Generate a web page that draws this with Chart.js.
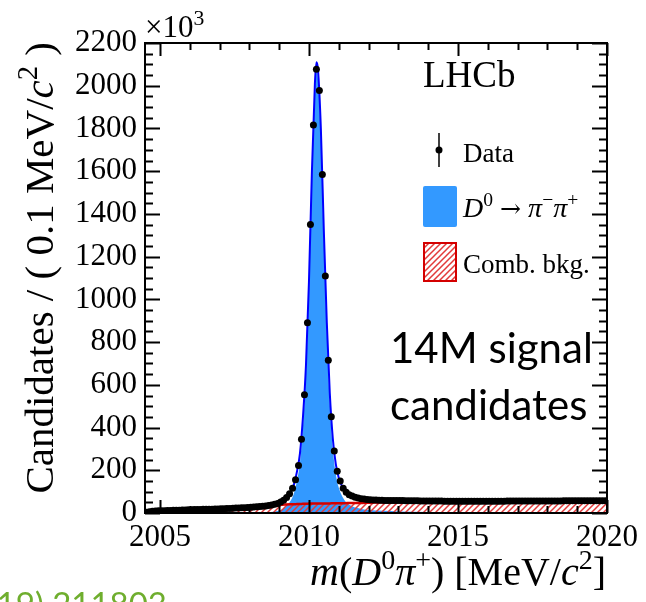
<!DOCTYPE html>
<html>
<head>
<meta charset="utf-8">
<script src="https://cdn.jsdelivr.net/npm/chart.js@4.4.1/dist/chart.umd.min.js"></script>
<style>
  html, body { margin: 0; padding: 0; background: #fff; }
  #wrap { position: relative; width: 646px; height: 602px; }
</style>
</head>
<body>
<div id="wrap"><canvas id="massChart" width="646" height="602"></canvas></div>
<script>
// m(D0 pi+) histogram: 0.1 MeV bins from 2004.5, counts in units of 10^3
const binLow = 2004.5;
const binWidth = 0.1;
const dataCounts = [
  3, 6, 8, 9, 10,
  11, 11, 12, 12, 13, 13, 13, 14, 14, 15,
  15, 16, 16, 16, 17, 17, 18, 18, 19, 19,
  20, 20, 21, 21, 22, 23, 23, 24, 25, 26,
  27, 28, 29, 30, 32, 33, 35, 38, 41, 45,
  52, 60, 72, 90, 116, 156, 222, 345, 554, 891,
  1350, 1816, 2077, 1978, 1585, 1109, 715, 451, 290, 196,
  150, 116, 97, 86, 79, 74, 70, 67, 65, 63,
  62, 61, 61, 60, 60, 59, 59, 59, 58, 58,
  58, 58, 57, 57, 57, 57, 57, 56, 56, 56,
  56, 56, 56, 56, 56, 55, 55, 55, 55, 55,
  55, 55, 55, 55, 55, 55, 55, 55, 55, 55,
  55, 55, 55, 55, 55, 55, 56, 56, 56, 56,
  56, 56, 56, 56, 56, 56, 56, 56, 56, 56,
  56, 56, 56, 56, 56, 57, 57, 57, 57, 57,
  57, 57, 57, 57, 57, 57, 57, 57, 57, 57
];

// fit projections sampled along m(D0 pi+)
const fitMass = [2004.41, 2004.5, 2005, 2005.5, 2006, 2006.5, 2007, 2007.5, 2008, 2008.5,
  2008.8, 2009.0, 2009.2, 2009.4, 2009.5, 2009.6, 2009.7, 2009.8, 2009.9, 2010.0,
  2010.1, 2010.2, 2010.25, 2010.3, 2010.4, 2010.5, 2010.6, 2010.7, 2010.8, 2010.9,
  2011.0, 2011.2, 2011.4, 2011.6, 2011.8, 2012, 2012.5, 2013, 2014, 2015,
  2016, 2017, 2018, 2019, 2020];
const fitTotal = [0, 3, 9, 12, 15, 18, 21, 24, 29, 35,
  41, 50, 66, 102, 135, 195, 280, 450, 690, 1080,
  1600, 2010, 2110, 2080, 1800, 1320, 890, 560, 350, 230,
  165, 105, 82, 71, 65, 62, 59, 57, 56, 55,
  55, 55, 56, 56, 57];
const fitSignal = [0, 0, 0, 0, 0, 1, 1, 1, 2, 3,
  6, 12, 26, 61, 94, 153, 238, 407, 647, 1036,
  1556, 1966, 2066, 2035, 1755, 1275, 845, 515, 304, 184,
  119, 59, 35, 24, 18, 14, 10, 7, 5, 3,
  2, 2, 2, 2, 2];
const fitBkg = [0, 3, 9, 12, 15, 17, 20, 23, 27, 32,
  35, 38, 40, 41, 41, 42, 42, 43, 43, 44,
  44, 44, 44, 45, 45, 45, 45, 45, 46, 46,
  46, 46, 47, 47, 47, 48, 49, 50, 51, 52,
  53, 53, 54, 54, 55];

const xTickValues = [2005, 2010, 2015, 2020];
const yTickStep = 200;

const SERIF = '"Liberation Serif", "Times New Roman", serif';
const SIGNAL_BLUE = '#3399ff';
const FIT_BLUE = '#0000ff';
const BKG_RED = '#d40000';

const dataPoints = dataCounts.map((v, i) => ({ x: +(binLow + binWidth * (i + 0.5)).toFixed(2), y: v }));
const curve = vals => fitMass.map((m, i) => ({ x: m, y: vals[i] }));

// red diagonal hatching on a transparent background
function hatchPattern(ctx) {
  const c = document.createElement('canvas');
  c.width = 6; c.height = 6;
  const g = c.getContext('2d');
  g.strokeStyle = '#e23a3a';
  g.lineWidth = 1.5;
  g.beginPath();
  g.moveTo(-1, 7); g.lineTo(7, -1);
  g.moveTo(-4, 4); g.lineTo(4, -4);
  g.moveTo(2, 10); g.lineTo(10, 2);
  g.stroke();
  return ctx.createPattern(c, 'repeat');
}

// text with italic / superscript pieces, parts = [[text, style], ...]
function richFont(style, size) {
  if (style === 'arrow') return (size * 0.9) + 'px "DejaVu Serif", serif';
  const sz = style.includes('sup') ? size * 0.7 : size;
  return (style === 'i' ? 'italic ' : '') + sz + 'px ' + SERIF;
}
function drawRich(ctx, parts, x, y, size, align) {
  let w = 0;
  parts.forEach(p => { ctx.font = richFont(p[1], size); w += ctx.measureText(p[0]).width; });
  let cx = align === 'right' ? x - w : x;
  ctx.textAlign = 'left';
  ctx.textBaseline = 'alphabetic';
  parts.forEach(p => {
    ctx.font = richFont(p[1], size);
    const dy = p[1].includes('sup') ? -size * 0.4 : 0;
    ctx.fillText(p[0], cx, y + dy);
    cx += ctx.measureText(p[0]).width;
  });
}

// closed frame with inward ticks on all four sides
const frame = {
  id: 'frame',
  afterDatasetsDraw(chart) {
    const { ctx, chartArea: a, scales: { x, y } } = chart;
    ctx.save();
    ctx.strokeStyle = '#000';
    ctx.lineWidth = 2;
    ctx.strokeRect(a.left, a.top, a.right - a.left, a.bottom - a.top);
    ctx.beginPath();
    for (let m = 2005; m <= 2020; m++) {
      const px = Math.round(x.getPixelForValue(m)) + 0.5;
      const len = m % 5 === 0 ? 13 : 7;
      ctx.moveTo(px, a.bottom); ctx.lineTo(px, a.bottom - len);
      ctx.moveTo(px, a.top); ctx.lineTo(px, a.top + len);
    }
    for (let v = 0; v <= 2200; v += 50) {
      const py = Math.round(y.getPixelForValue(v)) + 0.5;
      const len = v % yTickStep === 0 ? 15 : 8;
      ctx.moveTo(a.left, py); ctx.lineTo(a.left + len, py);
      ctx.moveTo(a.right, py); ctx.lineTo(a.right - len, py);
    }
    ctx.stroke();
    ctx.restore();
  }
};

// titles, legend and annotations
const decorations = {
  id: 'decorations',
  afterDraw(chart) {
    const ctx = chart.ctx;
    ctx.save();
    ctx.fillStyle = '#000';

    // axis titles
    drawRich(ctx, [['m', 'i'], ['(', ''], ['D', 'i'], ['0', 'sup'], ['π', 'i'], ['+', 'sup'],
      [') [MeV/', ''], ['c', 'i'], ['2', 'sup'], [']', '']], 606, 585, 40, 'right');
    ctx.save();
    ctx.translate(53, 42);
    ctx.rotate(-Math.PI / 2);
    drawRich(ctx, [['Candidates / ( 0.1 MeV/', ''], ['c', 'i'], ['2', 'sup'], [' )', '']], 0, 0, 41, 'right');
    ctx.restore();
    drawRich(ctx, [['×10', ''], ['3', 'sup']], 145, 37, 31, 'left');

    // experiment label
    ctx.font = '37px ' + SERIF;
    ctx.fillText('LHCb', 423, 87);

    // legend: data
    ctx.strokeStyle = '#000';
    ctx.lineWidth = 1.5;
    ctx.beginPath(); ctx.moveTo(439, 133); ctx.lineTo(439, 167); ctx.stroke();
    ctx.beginPath(); ctx.arc(439, 150, 3.5, 0, Math.PI * 2); ctx.fill();
    ctx.font = '27px ' + SERIF;
    ctx.fillText('Data', 463, 162);

    // legend: signal
    ctx.fillStyle = SIGNAL_BLUE;
    ctx.beginPath(); ctx.roundRect(423, 186, 34, 41, 2); ctx.fill();
    ctx.fillStyle = '#000';
    drawRich(ctx, [['D', 'i'], ['0', 'sup'], [' ', ''], ['→', 'arrow'], [' ', ''], ['π', 'i'], ['−', 'sup'], ['π', 'i'], ['+', 'sup']], 463, 217, 28, 'left');

    // legend: combinatorial background
    ctx.fillStyle = hatchPattern(ctx);
    ctx.fillRect(423, 242, 34, 40);
    ctx.strokeStyle = BKG_RED;
    ctx.lineWidth = 2;
    ctx.strokeRect(424, 243, 32, 38);
    ctx.fillStyle = '#000';
    ctx.font = '27px ' + SERIF;
    ctx.fillText('Comb. bkg.', 463, 273);

    // signal yield note
    ctx.font = '42px Lato, "Open Sans", sans-serif';
    ctx.fillText('14M signal', 390, 363);
    ctx.fillText('candidates', 390, 420);

    // reference line at the bottom edge
    ctx.fillStyle = '#6fae2e';
    ctx.font = '33px Lato, "Open Sans", sans-serif';
    ctx.textAlign = 'right';
    ctx.fillText('PRL 122 (2019) 211803', 167, 616);
    ctx.restore();
  }
};

const ctx = document.getElementById('massChart').getContext('2d');
new Chart(ctx, {
  type: 'scatter',
  data: {
    datasets: [
      {
        label: 'Data',
        data: dataPoints,
        showLine: false,
        pointRadius: 3.5,
        pointBackgroundColor: '#000',
        pointBorderWidth: 0,
        order: 0
      },
      {
        label: 'Fit',
        type: 'line',
        data: curve(fitTotal),
        borderColor: FIT_BLUE,
        borderWidth: 2,
        pointRadius: 0,
        fill: false,
        cubicInterpolationMode: 'monotone',
        order: 1
      },
      {
        label: 'Comb. bkg.',
        type: 'line',
        data: curve(fitBkg),
        borderColor: BKG_RED,
        borderWidth: 2.5,
        backgroundColor: hatchPattern(ctx),
        pointRadius: 0,
        fill: 'origin',
        cubicInterpolationMode: 'monotone',
        order: 2
      },
      {
        label: 'D0 → π−π+',
        type: 'line',
        data: curve(fitSignal),
        borderWidth: 0,
        borderColor: 'rgba(0,0,0,0)',
        backgroundColor: SIGNAL_BLUE,
        pointRadius: 0,
        fill: 'origin',
        cubicInterpolationMode: 'monotone',
        order: 3
      }
    ]
  },
  options: {
    responsive: false,
    animation: false,
    devicePixelRatio: 1,
    layout: { padding: { top: 43, right: 39, left: 0, bottom: 0 } },
    plugins: { legend: { display: false }, tooltip: { enabled: false } },
    scales: {
      x: {
        type: 'linear',
        min: 2004.5,
        max: 2020,
        afterBuildTicks: s => { s.ticks = xTickValues.map(v => ({ value: v })); },
        afterFit: s => { s.height = 89; },
        grid: { display: false, drawTicks: false },
        border: { display: false },
        ticks: {
          font: { family: SERIF, size: 31 },
          color: '#000',
          padding: 6,
          maxRotation: 0,
          autoSkip: false,
          callback: v => String(v)
        }
      },
      y: {
        min: 0,
        max: 2200,
        afterFit: s => { s.width = 145; },
        grid: { display: false, drawTicks: false },
        border: { display: false },
        ticks: {
          stepSize: yTickStep,
          font: { family: SERIF, size: 31 },
          color: '#000',
          padding: 8,
          autoSkip: false,
          callback: v => String(v)
        }
      }
    }
  },
  plugins: [frame, decorations]
});
</script>
</body>
</html>
